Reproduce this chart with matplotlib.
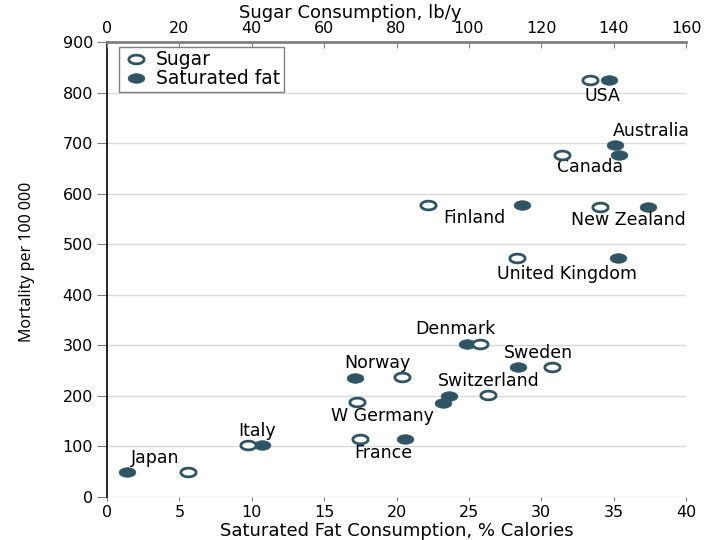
import numpy as np
import matplotlib.pyplot as plt
from matplotlib.lines import Line2D

# data
countries = ['USA', 'Australia', 'Canada', 'Finland', 'New Zealand', 'United Kingdom',
             'Denmark', 'Sweden', 'Norway', 'Switzerland', 'W Germany', 'France',
             'Italy', 'Japan']
sugar = [133.4, 163.3, 125.7, 88.7, 136.2, 113.3, 103.0, 122.9, 81.5, 105.2, 69.0, 69.9, 39.0, 22.4]
sugar_mort = [825, 690, 676, 577, 573, 473, 303, 257, 237, 202, 188, 115, 103, 50]
fat = [34.7, 35.1, 35.4, 28.7, 37.4, 35.3, 24.9, 28.4, 17.1, 23.6, 23.2, 20.6, 10.7, 1.4]
fat_mort = [825, 696, 676, 577, 573, 473, 303, 257, 235, 200, 186, 115, 103, 50]

fat_ticks = [0, 5, 10, 15, 20, 25, 30, 35, 40]
sugar_ticks = [0, 20, 40, 60, 80, 100, 120, 140, 160]
mort_ticks = [0, 100, 200, 300, 400, 500, 600, 700, 800, 900]

# label placement (fat axis units, mortality)
label_pos = {
    'USA': (34.2, 793), 'Australia': (37.6, 724), 'Canada': (33.4, 653),
    'Finland': (25.4, 552), 'New Zealand': (36.0, 548), 'United Kingdom': (31.8, 441),
    'Denmark': (24.1, 332), 'Sweden': (29.8, 285), 'Norway': (18.7, 265),
    'Switzerland': (26.4, 229), 'W Germany': (19.0, 160), 'France': (19.1, 87),
    'Italy': (10.4, 131), 'Japan': (3.3, 77),
}

col = '#2f5564'
grey = '#808080'
# wide ellipse marker (reference is stretched sideways)
t = np.linspace(0, 2 * np.pi, 60)
ell = list(zip(1.75 * np.cos(t), np.sin(t)))

fig = plt.figure(figsize=(7.2, 5.4), dpi=100)
ax = fig.add_axes([0.1486, 0.0796, 0.8042, 0.8426])
ax2 = ax.twiny()

ax.set_xlim(0, 40)
ax.set_ylim(0, 900)
ax2.set_xlim(0, 160)

ax.yaxis.grid(True, color='#d9d9d9', linewidth=1)
ax.set_axisbelow(True)

ax.plot(fat, fat_mort, linestyle='none', marker=ell, markersize=12,
        markerfacecolor=col, markeredgecolor=col, markeredgewidth=0.5, zorder=3)
ax2.plot(sugar, sugar_mort, linestyle='none', marker=ell, markersize=11,
         markerfacecolor='white', markeredgecolor=col, markeredgewidth=2, zorder=3)

for c in countries:
    x, y = label_pos[c]
    ax.text(x, y, c, ha='center', va='center', fontsize=12.5, color='black')

ax.set_xticks(fat_ticks)
ax.set_yticks(mort_ticks)
ax2.set_xticks(sugar_ticks)
ax.tick_params(axis='x', direction='out', length=3, color=grey, labelsize=11.5, pad=3)
ax.tick_params(axis='y', direction='out', length=7, color=grey, labelsize=11.5, pad=3)
ax2.tick_params(axis='x', direction='in', length=4, color=grey, labelsize=11.5, pad=4)

for s in ['bottom', 'right', 'top']:
    ax.spines[s].set_visible(False)
ax.spines['left'].set_color('black')
ax.spines['left'].set_linewidth(1.2)
for s in ['bottom', 'right', 'left']:
    ax2.spines[s].set_visible(False)
ax2.spines['top'].set_color(grey)
ax2.spines['top'].set_linewidth(2)

ax.set_xlabel('Saturated Fat Consumption, % Calories', fontsize=13)
ax.xaxis.set_label_coords(0.5, -0.055)
ax2.set_xlabel('Sugar Consumption, lb/y', fontsize=13)
ax2.xaxis.set_label_coords(0.42, 1.053)
ax.set_ylabel('Mortality per 100 000', fontsize=11.5,
              family=['Liberation Sans Narrow', 'Noto Sans', 'DejaVu Sans'],
              fontstretch='condensed')
ax.yaxis.set_label_coords(-0.125, 0.516)

handles = [
    Line2D([], [], linestyle='none', marker=ell, markersize=11, markerfacecolor='white',
           markeredgecolor=col, markeredgewidth=2),
    Line2D([], [], linestyle='none', marker=ell, markersize=12, markerfacecolor=col,
           markeredgecolor=col, markeredgewidth=0.5),
]
leg = ax2.legend(handles, ['Sugar', 'Saturated fat'], loc='upper left',
                 bbox_to_anchor=(0.02, 0.99), borderaxespad=0, fancybox=False,
                 framealpha=1, edgecolor=grey, fontsize=13.5, handletextpad=0.3,
                 handlelength=1.5, labelspacing=0.0, borderpad=0.2)
leg.get_frame().set_linewidth(1)

fig.savefig('out.png', dpi=100)
